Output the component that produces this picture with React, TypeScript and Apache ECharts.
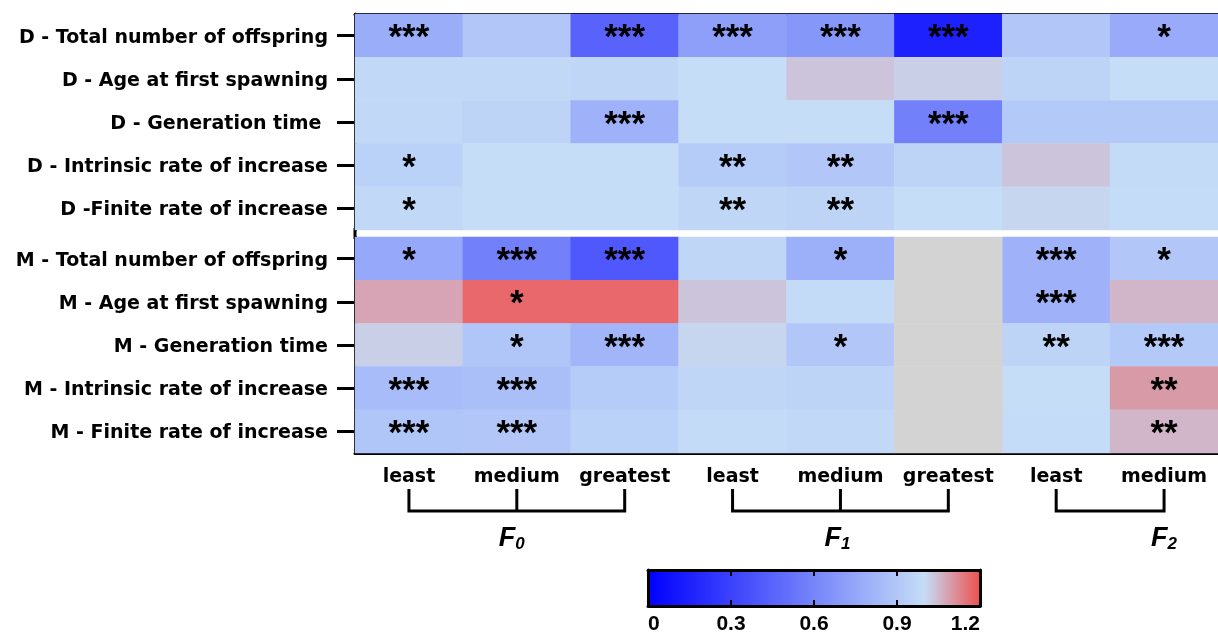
import React, { useEffect, useRef } from 'react';
import * as echarts from 'echarts';

// ---------- data ----------
const columns = ['least', 'medium', 'greatest', 'least', 'medium', 'greatest', 'least', 'medium'];
const generationLabels = ['0', '1', '2'];

const dLabels = [
  'D - Total number of offspring',
  'D - Age at first spawning',
  'D - Generation time ',
  'D - Intrinsic rate of increase',
  'D -Finite rate of increase',
];
const mLabels = [
  'M - Total number of offspring',
  'M - Age at first spawning',
  'M - Generation time',
  'M - Intrinsic rate of increase',
  'M - Finite rate of increase',
];

// values (ratio), columns: F0 least/medium/greatest, F1 least/medium/greatest, F2 least/medium
const dTotal = [0.78, 0.9, 0.45, 0.72, 0.68, 0.15, 0.9, 0.77];
const dAge = [0.98, 0.98, 0.97, 1.0, 1.035, 1.02, 0.96, 1.0];
const dGen = [0.98, 0.96, 0.8, 1.0, 1.0, 0.58, 0.91, 0.91];
const dIntr = [0.95, 1.0, 1.0, 0.92, 0.9, 0.96, 1.035, 0.99];
const dFin = [0.98, 1.0, 1.0, 0.97, 0.96, 1.0, 1.01, 0.995];

const mTotal = [0.76, 0.58, 0.4, 0.97, 0.79, null, 0.8, 0.9];
const mAge = [1.08, 1.165, 1.165, 1.035, 0.99, null, 0.8, 1.055];
const mGen = [1.02, 0.89, 0.82, 1.01, 0.9, null, 0.96, 0.91];
const mIntr = [0.85, 0.86, 0.92, 0.97, 0.96, null, 1.0, 1.095];
const mFin = [0.89, 0.9, 0.95, 0.99, 0.98, null, 0.995, 1.055];

const dStars = [
  ['***', '', '***', '***', '***', '***', '', '*'],
  ['', '', '', '', '', '', '', ''],
  ['', '', '***', '', '', '***', '', ''],
  ['*', '', '', '**', '**', '', '', ''],
  ['*', '', '', '**', '**', '', '', ''],
];
const mStars = [
  ['*', '***', '***', '', '*', '', '***', '*'],
  ['', '*', '', '', '', '', '***', ''],
  ['', '*', '***', '', '*', '', '**', '***'],
  ['***', '***', '', '', '', '', '', '**'],
  ['***', '***', '', '', '', '', '', '**'],
];

const colorbarTicks = { min: 0, max: 1.2, interval: 0.3 };
const scaleColors = ['#0000ff', '#272cfd', '#4f58fc', '#7685fa', '#9eb1f9', '#c5ddf7', '#ef4f4f'];
const missingColor = '#d3d3d3';

const dValues = [dTotal, dAge, dGen, dIntr, dFin];
const mValues = [mTotal, mAge, mGen, mIntr, mFin];

// ---------- layout ----------
const FONT = 'Liberation Sans, Arial, sans-serif';
const WIDE_FONT = 'DejaVu Sans, Liberation Sans, sans-serif';
const GRID_LEFT = 355;
const GRID_W = 872;
const TOP1 = 14;
const TOP2 = 237;
const GRID_H = 216;

function toCells(values: (number | null)[][]) {
  const out: any[] = [];
  values.forEach((row, y) => row.forEach((v, x) => { if (v !== null) out.push([x, y, v]); }));
  return out;
}
function missingCells(values: (number | null)[][]) {
  const out: any[] = [];
  values.forEach((row, y) => row.forEach((v, x) => { if (v === null) out.push([x, y, 0]); }));
  return out;
}

export default function App() {
  const ref = useRef<HTMLDivElement>(null);
  useEffect(() => {
    if (!ref.current) return;
    const chart = echarts.init(ref.current, undefined, { renderer: 'svg' });
    const black = '#000';
    const yAxisCommon = (labels: string[], gridIndex: number) => ({
      type: 'category',
      gridIndex,
      data: labels,
      inverse: true,
      axisLine: { show: true, lineStyle: { color: black, width: 3 } },
      axisTick: { show: true, alignWithLabel: true, length: 18, lineStyle: { color: black, width: 3 } },
      axisLabel: { color: black, fontFamily: WIDE_FONT, fontWeight: 'bold', fontSize: 19, margin: 27, interval: 0 },
      splitLine: { show: false },
    });
    const starLabel = (stars: string[][]) => ({
      show: true,
      color: black,
      fontFamily: FONT,
      fontWeight: 'bold',
      fontSize: 35,
      offset: [0, 0],
      formatter: (p: any) => stars[p.value[1]][p.value[0]],
    });
    const cbAxisLine = { show: true, onZero: false, lineStyle: { color: black, width: 3 } };
    const option: any = {
      animation: false,
      grid: [
        { left: GRID_LEFT, top: TOP1, width: GRID_W, height: GRID_H },
        { left: GRID_LEFT, top: TOP2, width: GRID_W, height: GRID_H },
        { left: 648, top: 570, width: 332, height: 36 },
      ],
      xAxis: [
        {
          type: 'category', gridIndex: 0, data: columns, position: 'top',
          axisLine: { show: true, lineStyle: { color: black, width: 3 } },
          axisTick: { show: false }, axisLabel: { show: false }, splitLine: { show: false },
        },
        {
          type: 'category', gridIndex: 1, data: columns, position: 'bottom',
          axisLine: { show: true, lineStyle: { color: black, width: 3 } },
          axisTick: { show: false },
          axisLabel: { color: black, fontFamily: WIDE_FONT, fontWeight: 'bold', fontSize: 19, margin: 12, interval: 0 },
          splitLine: { show: false },
        },
        {
          type: 'value', gridIndex: 2, position: 'bottom', z: 10,
          min: colorbarTicks.min, max: colorbarTicks.max, interval: colorbarTicks.interval,
          axisLine: cbAxisLine,
          axisTick: { show: true, inside: true, length: 6, lineStyle: { color: black, width: 2 } },
          axisLabel: {
            color: black, fontFamily: FONT, fontWeight: 'bold', fontSize: 21, margin: 6,
            alignMinLabel: 'left', alignMaxLabel: 'right',
            formatter: (v: number) => String(Math.round(v * 10) / 10),
          },
          splitLine: { show: false },
        },
        {
          type: 'value', gridIndex: 2, position: 'top', z: 10,
          min: colorbarTicks.min, max: colorbarTicks.max, interval: colorbarTicks.interval,
          axisLine: cbAxisLine,
          axisTick: { show: true, inside: true, length: 6, lineStyle: { color: black, width: 2 } },
          axisLabel: { show: false }, splitLine: { show: false },
        },
      ],
      yAxis: [
        yAxisCommon(dLabels, 0),
        yAxisCommon(mLabels, 1),
        {
          type: 'value', gridIndex: 2, position: 'left', z: 10, min: 0, max: 1,
          axisLine: cbAxisLine,
          axisTick: { show: false }, axisLabel: { show: false }, splitLine: { show: false },
        },
        {
          type: 'value', gridIndex: 2, position: 'right', z: 10, min: 0, max: 1,
          axisLine: cbAxisLine,
          axisTick: { show: false }, axisLabel: { show: false }, splitLine: { show: false },
        },
      ],
      visualMap: [
        {
          type: 'continuous',
          min: colorbarTicks.min,
          max: colorbarTicks.max,
          seriesIndex: [0, 1],
          orient: 'horizontal',
          left: 648,
          top: 570,
          itemWidth: 36,
          itemHeight: 332,
          padding: 0,
          calculable: false,
          hoverLink: false,
          inRange: { color: scaleColors },
        },
        {
          type: 'continuous',
          show: false,
          min: 0,
          max: 1,
          seriesIndex: [2],
          inRange: { color: [missingColor, missingColor] },
        },
      ],
      series: [
        {
          type: 'heatmap', xAxisIndex: 0, yAxisIndex: 0, data: toCells(dValues),
          label: starLabel(dStars), emphasis: { disabled: true },
        },
        {
          type: 'heatmap', xAxisIndex: 1, yAxisIndex: 1, data: toCells(mValues),
          label: starLabel(mStars), emphasis: { disabled: true },
        },
        {
          type: 'heatmap', xAxisIndex: 1, yAxisIndex: 1, data: missingCells(mValues),
          label: { show: false }, emphasis: { disabled: true },
        },
      ],
    };
    chart.setOption(option);

    const px = (i: number) => chart.convertToPixel({ xAxisIndex: 1 }, i) as number;
    const yTop = 489;
    const yBot = 511;
    const lineStyle = { stroke: black, lineWidth: 3, fill: null };
    const extras: any[] = [];
    const groups = [[0, 1, 2], [3, 4, 5], [6, 7]];
    groups.forEach((g) => {
      const a = px(g[0]);
      const b = px(g[g.length - 1]);
      extras.push({ type: 'polyline', shape: { points: [[a, yTop], [a, yBot], [b, yBot], [b, yTop]] }, style: lineStyle });
      if (g.length === 3) {
        const m = px(g[1]);
        extras.push({ type: 'line', shape: { x1: m, y1: yTop, x2: m, y2: yBot }, style: lineStyle });
      }
    });
    const labelCols = [1, 4, 7];
    const labelShift = [-5, -3, 0];
    labelCols.forEach((c, i) => {
      extras.push({
        type: 'text',
        x: px(c) + labelShift[i],
        y: 537,
        style: {
          text: `{f|F}{s|${generationLabels[i]}}`,
          align: 'center',
          verticalAlign: 'middle',
          fill: black,
          rich: {
            f: { fontFamily: FONT, fontWeight: 'bold', fontStyle: 'italic', fontSize: 27, lineHeight: 30, fill: black },
            s: { fontFamily: FONT, fontWeight: 'bold', fontStyle: 'italic', fontSize: 17, lineHeight: 16, verticalAlign: 'bottom', fill: black },
          },
        },
      });
    });
    extras.push({
      type: 'line',
      shape: { x1: GRID_LEFT, y1: TOP1 + GRID_H - 2, x2: GRID_LEFT, y2: TOP2 + 2 },
      style: { stroke: black, lineWidth: 3 },
    });
    chart.setOption({ graphic: extras });

    return () => chart.dispose();
  }, []);
  return <div ref={ref} style={{ position: 'fixed', left: 0, top: 0, width: 1218, height: 634 }} />;
}
